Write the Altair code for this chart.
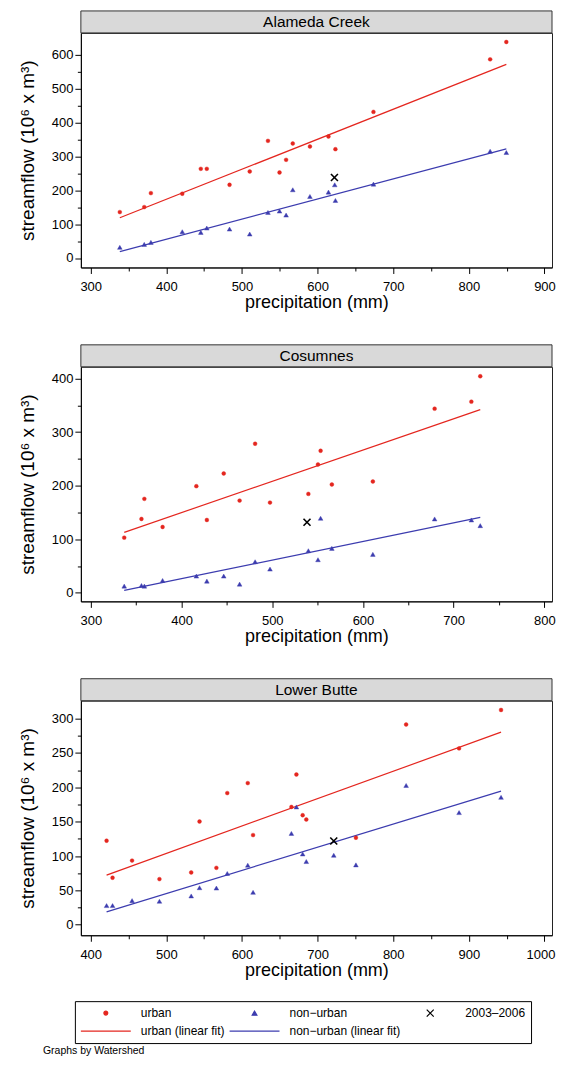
import altair as alt
import pandas as pd

FONT = "Liberation Sans"
RED = "#e4261f"
BLUE = "#3c3caf"
BLACK = "#000000"

SERIES = ["urban", "non−urban", "2003–2006", "urban (linear fit)", "non−urban (linear fit)"]
SERIES_COLORS = [RED, BLUE, BLACK, RED, BLUE]
SERIES_SHAPES = ["circle", "triangle-up", "M-1,-1L1,1M1,-1L-1,1", "M-1,0L1,0", "M-1,0L1,0"]
SERIES_SIZES = [15, 22, 49, 2500, 2500]

# ---------------- Alameda Creek ----------------
ala_urban_precip = [338.5, 370.8, 379.6, 421.1, 445.6, 453.5, 483.6, 510.3, 534.4, 549.7, 558.4, 567.2, 589.9, 614.4, 623.6, 673.9, 828.2, 849.6]
ala_urban_flow = [135.7, 150.4, 191.7, 189.8, 263.5, 263.5, 216.3, 255.7, 346.1, 252.7, 290.1, 338.3, 329.4, 358.9, 321.5, 431.7, 587.0, 638.2]
ala_non_precip = [338.5, 370.8, 379.6, 421.1, 445.6, 453.5, 483.6, 510.3, 534.4, 549.7, 558.4, 567.2, 589.9, 614.4, 623.6, 622.7, 673.9, 828.2, 849.6]
ala_non_flow = [31.5, 40.3, 46.2, 77.7, 75.7, 88.5, 85.5, 70.8, 134.7, 138.6, 126.8, 201.6, 181.9, 194.7, 170.1, 216.3, 218.3, 315.6, 311.7]
ala_recent_precip = [622.3]
ala_recent_flow = [238.0]
ala_urban_fit_precip = [338.5, 849.6]
ala_urban_fit_flow = [119.0, 572.0]
ala_non_fit_precip = [338.5, 849.6]
ala_non_fit_flow = [18.7, 322.5]
ala_xdomain = [287, 910]
ala_ydomain = [-28, 665]
ala_xticks = [300, 350, 400, 450, 500, 550, 600, 650, 700, 750, 800, 850, 900]
ala_yticks = [0, 50, 100, 150, 200, 250, 300, 350, 400, 450, 500, 550, 600]

# ---------------- Cosumnes ----------------
cos_urban_precip = [336.8, 355.8, 359.0, 379.1, 416.3, 427.9, 446.5, 464.0, 481.1, 497.5, 539.8, 550.4, 553.3, 565.7, 610.9, 679.0, 719.5, 729.3]
cos_urban_flow = [103.0, 137.9, 175.4, 122.9, 199.1, 136.0, 222.8, 172.2, 278.3, 168.5, 184.7, 239.6, 265.2, 202.2, 207.8, 343.8, 356.9, 404.4]
cos_non_precip = [336.8, 355.8, 359.0, 379.1, 416.3, 427.9, 446.5, 464.0, 481.1, 497.5, 539.8, 550.4, 553.3, 565.7, 610.9, 679.0, 719.5, 729.3]
cos_non_flow = [12.5, 13.7, 12.5, 23.1, 31.2, 21.8, 31.2, 16.2, 58.0, 44.3, 78.6, 61.8, 139.2, 83.0, 71.8, 137.9, 136.0, 125.4]
cos_recent_precip = [538.3]
cos_recent_flow = [131.7]
cos_urban_fit_precip = [336.8, 729.3]
cos_urban_fit_flow = [112.9, 342.0]
cos_non_fit_precip = [336.8, 729.3]
cos_non_fit_flow = [4.4, 141.0]
cos_xdomain = [289, 808.4]
cos_ydomain = [-16, 422]
cos_xticks = [300, 350, 400, 450, 500, 550, 600, 650, 700, 750, 800]
cos_yticks = [0, 50, 100, 150, 200, 250, 300, 350, 400]

# ---------------- Lower Butte ----------------
lb_urban_precip = [421.0, 428.9, 454.7, 490.9, 532.9, 543.9, 566.2, 580.6, 607.7, 614.7, 665.4, 672.0, 680.3, 685.1, 750.7, 817.1, 887.1, 942.6]
lb_urban_flow = [122.3, 68.4, 93.4, 66.4, 76.1, 150.2, 82.8, 191.6, 206.1, 130.5, 171.4, 218.6, 159.4, 153.1, 126.6, 291.3, 256.6, 312.5]
lb_non_precip = [421.0, 428.9, 454.7, 490.9, 532.9, 543.9, 566.2, 580.6, 607.7, 614.7, 665.4, 672.0, 680.3, 685.1, 721.4, 750.7, 817.1, 887.1, 942.6]
lb_non_flow = [27.9, 27.9, 35.1, 34.2, 41.9, 53.9, 53.4, 74.6, 86.7, 47.2, 132.9, 171.4, 103.0, 92.0, 101.1, 87.1, 202.7, 163.2, 185.4]
lb_recent_precip = [721.4]
lb_recent_flow = [121.8]
lb_urban_fit_precip = [421.0, 942.6]
lb_urban_fit_flow = [72.2, 280.2]
lb_non_fit_precip = [421.0, 942.6]
lb_non_fit_flow = [18.8, 194.5]
lb_xdomain = [387, 1010]
lb_ydomain = [-15.3, 326]
lb_xticks = [400, 450, 500, 550, 600, 650, 700, 750, 800, 850, 900, 950, 1000]
lb_yticks = [0, 25, 50, 75, 100, 125, 150, 175, 200, 225, 250, 275, 300]

FOOTNOTE = "Graphs by Watershed"

W = 472
H = 235
HEADER_H = 22

LEGEND = alt.Legend(
    title=None, orient="none", legendX=-6, legendY=970, columns=3, direction="horizontal",
    strokeColor="#000000", padding=5, rowPadding=4, columnPadding=3, labelOffset=9,
    labelFont=FONT, labelFontSize=12, labelColor="#000000", clipHeight=14,
    symbolStrokeWidth=1.2, symbolOffset=0,
)


def enc_fill():
    return alt.Fill("series:N", scale=alt.Scale(domain=SERIES, range=SERIES_COLORS), legend=LEGEND)


def enc_stroke():
    return alt.Stroke("series:N", scale=alt.Scale(domain=SERIES, range=SERIES_COLORS), legend=LEGEND)


def enc_shape():
    return alt.Shape("series:N", scale=alt.Scale(domain=SERIES, range=SERIES_SHAPES), legend=LEGEND)


def enc_size():
    return alt.Size("series:N", scale=alt.Scale(type="ordinal", domain=SERIES, range=SERIES_SIZES), legend=LEGEND)


def frame(precip, flow, label):
    return pd.DataFrame({"precip": precip, "flow": flow, "series": [label] * len(precip)})


def make_panel(name, up, uf, npp, nf, rp, rf, ufp, uff, nfp, nff, xdom, ydom, xticks, yticks, xstep, ystep,
               footnote=None):
    pts = pd.concat([frame(up, uf, SERIES[0]), frame(npp, nf, SERIES[1])], ignore_index=True)
    rec = frame(rp, rf, SERIES[2])
    fits = pd.concat([frame(ufp, uff, SERIES[3]), frame(nfp, nff, SERIES[4])], ignore_index=True)

    x = alt.X("precip:Q", scale=alt.Scale(domain=xdom, nice=False, zero=False),
              axis=alt.Axis(values=xticks, format="d", title="precipitation (mm)",
                            labelExpr=f"datum.value % {xstep} === 0 ? datum.label : ''",
                            tickSize={"condition": {"test": f"datum.value % {xstep} === 0", "value": 6}, "value": 3.5},
                            labelOffset={"condition": {"test": "datum.value >= 1000", "value": -4}, "value": 0},
                            labelPadding=7, titlePadding=0, titleFontSize=18,
                            labelOverlap=False, labelFlush=False))
    y = alt.Y("flow:Q", scale=alt.Scale(domain=ydom, nice=False, zero=False),
              axis=alt.Axis(values=yticks, format="d", title="streamflow (10⁶ x m³)",
                            labelExpr=f"datum.value % {ystep} === 0 ? datum.label : ''",
                            tickSize={"condition": {"test": f"datum.value % {ystep} === 0", "value": 6}, "value": 3.5},
                            labelPadding=2, titlePadding=14, titleFontSize=19,
                            labelOverlap=False, labelFlush=False))

    head_df = pd.DataFrame({"name": [name]})
    head_rect = alt.Chart(head_df).mark_rect(fill="#d9d9d9", stroke="#333333", strokeWidth=1).encode(
        x=alt.value(0), x2=alt.value(W), y=alt.value(-HEADER_H), y2=alt.value(0))
    head_text = alt.Chart(head_df).mark_text(
        font=FONT, fontSize=15.5, color="#000000", baseline="middle", align="center").encode(
        text="name:N", x=alt.value(W / 2), y=alt.value(-HEADER_H / 2))

    pts_layer = alt.Chart(pts).mark_point(filled=True, opacity=1, strokeWidth=0.4).encode(
        x=x, y=y, fill=enc_fill(), stroke=enc_stroke(), shape=enc_shape(), size=enc_size())
    rec_layer = alt.Chart(rec).mark_point(opacity=1, strokeWidth=1.6).encode(
        x=x, y=y, fill=enc_fill(), stroke=enc_stroke(), shape=enc_shape(), size=enc_size())
    fit_layer = alt.Chart(fits).mark_line(strokeWidth=1.2).encode(
        x=x, y=y, stroke=enc_stroke())

    layers = [head_rect, head_text, fit_layer, pts_layer, rec_layer]
    if footnote:
        note = alt.Chart(pd.DataFrame({"note": [footnote]})).mark_text(
            font=FONT, fontSize=10.5, color="#000000", align="left", baseline="middle").encode(
            text="note:N", x=alt.value(-38), y=alt.value(H + 116))
        layers.append(note)
    return alt.layer(*layers).properties(width=W, height=H)


p1 = make_panel("Alameda Creek", ala_urban_precip, ala_urban_flow, ala_non_precip, ala_non_flow,
                ala_recent_precip, ala_recent_flow, ala_urban_fit_precip, ala_urban_fit_flow,
                ala_non_fit_precip, ala_non_fit_flow, ala_xdomain, ala_ydomain, ala_xticks, ala_yticks, 100, 100)
p2 = make_panel("Cosumnes", cos_urban_precip, cos_urban_flow, cos_non_precip, cos_non_flow,
                cos_recent_precip, cos_recent_flow, cos_urban_fit_precip, cos_urban_fit_flow,
                cos_non_fit_precip, cos_non_fit_flow, cos_xdomain, cos_ydomain, cos_xticks, cos_yticks, 100, 100)
p3 = make_panel("Lower Butte", lb_urban_precip, lb_urban_flow, lb_non_precip, lb_non_flow,
                lb_recent_precip, lb_recent_flow, lb_urban_fit_precip, lb_urban_fit_flow,
                lb_non_fit_precip, lb_non_fit_flow, lb_xdomain, lb_ydomain, lb_xticks, lb_yticks, 100, 50,
                footnote=FOOTNOTE)

chart = alt.vconcat(p1, p2, p3, spacing=99.5, bounds="flush").properties(
    padding={"left": 9, "top": 1, "right": 0, "bottom": 0},
    background="white",
).configure_view(
    stroke="#222222", strokeWidth=1
).configure_axis(
    domainColor="#000000", tickColor="#000000", labelColor="#000000", titleColor="#000000",
    labelFont=FONT, titleFont=FONT, labelFontSize=13, titleFontSize=17, titleFontWeight="normal",
    grid=False, domainWidth=1, tickWidth=1
)

chart.save("out.html", embed_options={"renderer": "svg", "actions": False})
